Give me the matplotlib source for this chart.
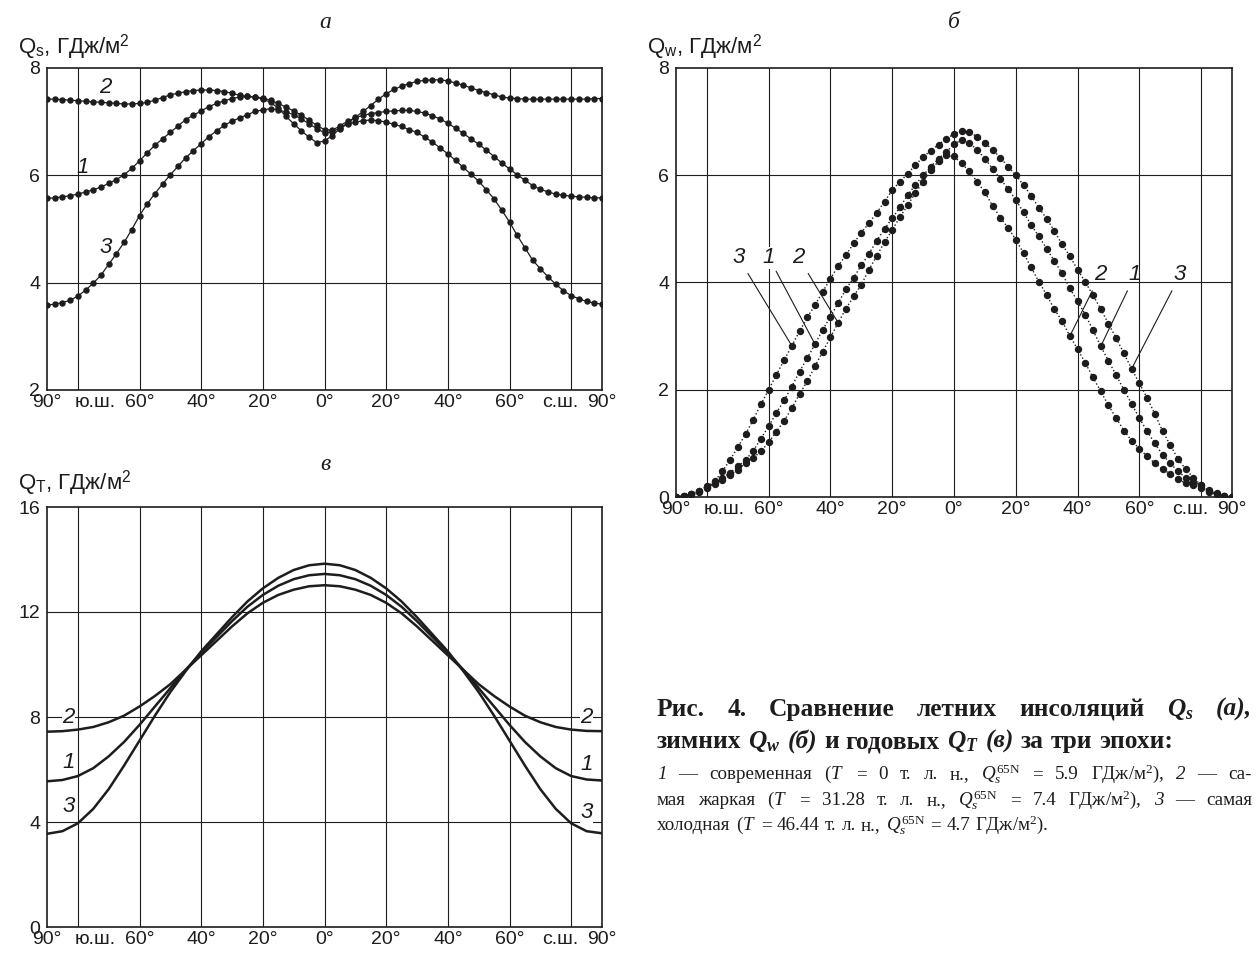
import numpy as np
import matplotlib
matplotlib.use('Agg')
from matplotlib import pyplot as plt
from matplotlib import font_manager

plt.rcParams['font.family'] = ['Liberation Sans', 'DejaVu Sans']
plt.rcParams['mathtext.fontset'] = 'custom'
plt.rcParams['mathtext.rm'] = 'Liberation Serif'
plt.rcParams['mathtext.it'] = 'Liberation Serif:italic'
plt.rcParams['mathtext.bf'] = 'Liberation Serif:bold'
plt.rcParams['mathtext.bfit'] = 'Liberation Serif:italic:bold'
plt.rcParams['mathtext.sf'] = 'Liberation Sans'

# узкий шрифт для подписей делений, если он есть
familias = {f.name for f in font_manager.fontManager.ttflist}
if 'Liberation Sans Narrow' in familias:
    fonte_ticks, tam_ticks = 'Liberation Sans Narrow', 16
else:
    fonte_ticks, tam_ticks = 'Liberation Sans', 14

# широты, град (ю.ш. отрицательные)
shirota = np.arange(-90, 90.1, 2.5)
shirota_t = np.arange(-90, 90.1, 5)

# --- а: летняя инсоляция Qs, ГДж/м2 ---
qs_1 = [5.57, 5.58, 5.60, 5.62, 5.65, 5.69, 5.73, 5.78, 5.85,
        5.92, 6.01, 6.13, 6.27, 6.42, 6.56, 6.68, 6.80,
        6.92, 7.04, 7.12, 7.20, 7.28, 7.34, 7.39, 7.43,
        7.46, 7.47, 7.46, 7.44, 7.40, 7.34, 7.27, 7.20,
        7.12, 7.03, 6.93, 6.85, 6.84, 6.92, 7.01, 7.07,
        7.12, 7.15, 7.17, 7.19, 7.20, 7.21, 7.21, 7.19,
        7.16, 7.11, 7.05, 6.97, 6.88, 6.78, 6.68, 6.58,
        6.47, 6.35, 6.23, 6.12, 6.01, 5.91, 5.81, 5.74,
        5.69, 5.65, 5.63, 5.61, 5.60, 5.59, 5.58, 5.58]
qs_2 = [7.42, 7.42, 7.41, 7.40, 7.39, 7.38, 7.37, 7.36, 7.35,
        7.34, 7.33, 7.33, 7.34, 7.36, 7.40, 7.45, 7.50,
        7.53, 7.56, 7.58, 7.59, 7.59, 7.58, 7.56, 7.53,
        7.49, 7.47, 7.46, 7.42, 7.36, 7.25, 7.10, 6.96,
        6.83, 6.71, 6.61, 6.64, 6.74, 6.87, 6.98, 7.08,
        7.19, 7.30, 7.42, 7.52, 7.60, 7.66, 7.71, 7.75,
        7.77, 7.78, 7.78, 7.76, 7.72, 7.68, 7.63, 7.58,
        7.54, 7.50, 7.46, 7.44, 7.43, 7.42, 7.42, 7.42,
        7.42, 7.42, 7.42, 7.42, 7.42, 7.42, 7.43, 7.43]
qs_3 = [3.58, 3.60, 3.63, 3.67, 3.75, 3.86, 3.99, 4.14, 4.34,
        4.54, 4.75, 4.99, 5.25, 5.47, 5.66, 5.84, 6.01,
        6.17, 6.33, 6.46, 6.59, 6.72, 6.83, 6.93, 7.01,
        7.07, 7.13, 7.19, 7.22, 7.24, 7.22, 7.18, 7.13,
        7.05, 6.96, 6.87, 6.79, 6.81, 6.88, 6.95, 6.99,
        7.02, 7.03, 7.02, 6.99, 6.95, 6.91, 6.85, 6.80,
        6.71, 6.62, 6.51, 6.40, 6.28, 6.15, 6.02, 5.89,
        5.73, 5.56, 5.35, 5.13, 4.88, 4.65, 4.42, 4.26,
        4.11, 3.97, 3.85, 3.76, 3.70, 3.65, 3.62, 3.60]

# --- б: зимняя инсоляция Qw, ГДж/м2 ---
qw_1 = [0.00, 0.02, 0.06, 0.12, 0.20, 0.28, 0.36, 0.45, 0.57,
        0.69, 0.86, 1.09, 1.32, 1.57, 1.80, 2.06, 2.34,
        2.59, 2.85, 3.12, 3.36, 3.62, 3.87, 4.09, 4.32,
        4.54, 4.78, 5.00, 5.20, 5.40, 5.63, 5.82, 6.00,
        6.16, 6.31, 6.43, 6.58, 6.66, 6.61, 6.47, 6.31,
        6.12, 5.93, 5.75, 5.54, 5.31, 5.07, 4.86, 4.63,
        4.40, 4.17, 3.89, 3.65, 3.40, 3.11, 2.81, 2.54,
        2.27, 2.00, 1.74, 1.47, 1.23, 1.00, 0.79, 0.63,
        0.48, 0.36, 0.28, 0.22, 0.13, 0.07, 0.02, 0.00]
qw_2 = [0.00, 0.02, 0.06, 0.11, 0.18, 0.25, 0.31, 0.41, 0.51,
        0.63, 0.73, 0.85, 1.02, 1.22, 1.42, 1.66, 1.92,
        2.16, 2.44, 2.71, 2.98, 3.25, 3.51, 3.74, 3.96,
        4.24, 4.50, 4.75, 4.98, 5.22, 5.44, 5.67, 5.88,
        6.10, 6.26, 6.37, 6.35, 6.22, 6.07, 5.88, 5.68,
        5.43, 5.21, 5.02, 4.80, 4.55, 4.28, 4.01, 3.77,
        3.50, 3.28, 3.00, 2.76, 2.50, 2.23, 1.97, 1.71,
        1.47, 1.24, 1.05, 0.90, 0.76, 0.63, 0.52, 0.43,
        0.33, 0.26, 0.22, 0.17, 0.10, 0.05, 0.01, 0.00]
qw_3 = [0.00, 0.02, 0.05, 0.09, 0.16, 0.29, 0.48, 0.69, 0.93,
        1.17, 1.44, 1.73, 2.00, 2.28, 2.55, 2.82, 3.09,
        3.35, 3.58, 3.83, 4.07, 4.31, 4.51, 4.73, 4.93,
        5.11, 5.30, 5.51, 5.72, 5.88, 6.03, 6.19, 6.34,
        6.46, 6.57, 6.68, 6.77, 6.83, 6.80, 6.72, 6.61,
        6.47, 6.33, 6.16, 6.00, 5.82, 5.62, 5.39, 5.19,
        4.96, 4.71, 4.49, 4.24, 4.01, 3.76, 3.51, 3.23,
        2.96, 2.68, 2.39, 2.12, 1.85, 1.55, 1.23, 0.97,
        0.71, 0.52, 0.36, 0.22, 0.11, 0.05, 0.01, 0.00]

# --- в: годовая инсоляция QT, ГДж/м2 (шаг 5 град) ---
qt_1 = [5.55, 5.60, 5.75, 6.05, 6.50, 7.05, 7.70, 8.40, 9.10, 9.80,
        10.45, 11.05, 11.65, 12.20, 12.65, 13.00, 13.25, 13.40, 13.45,
        13.40, 13.25, 13.00, 12.65, 12.20, 11.65, 11.05, 10.45,
        9.80, 9.10, 8.40, 7.70, 7.05, 6.50, 6.05, 5.75, 5.62, 5.58]
qt_2 = [7.44, 7.46, 7.52, 7.62, 7.80, 8.05, 8.40, 8.80, 9.25, 9.80,
        10.35, 10.90, 11.45, 11.95, 12.35, 12.65, 12.85, 12.98, 13.02,
        12.98, 12.85, 12.65, 12.35, 11.95, 11.45, 10.90, 10.35,
        9.80, 9.25, 8.80, 8.40, 8.05, 7.80, 7.62, 7.52, 7.47, 7.46]
qt_3 = [3.55, 3.65, 3.95, 4.50, 5.25, 6.15, 7.10, 8.05, 8.95, 9.75,
        10.50, 11.15, 11.80, 12.40, 12.90, 13.30, 13.60, 13.78, 13.84,
        13.78, 13.60, 13.30, 12.90, 12.40, 11.80, 11.15, 10.50,
        9.75, 8.95, 8.05, 7.10, 6.15, 5.25, 4.50, 3.95, 3.65, 3.57]

for s in (qs_1, qs_2, qs_3, qw_1, qw_2, qw_3):
    assert len(s) == len(shirota)
for s in (qt_1, qt_2, qt_3):
    assert len(s) == len(shirota_t)

x_ticks = [-90, -74.5, -60, -40, -20, 0, 20, 40, 60, 76.5, 90]
x_labels = ['90°', 'ю.ш.', '60°', '40°', '20°', '0°', '20°', '40°', '60°', 'с.ш.', '90°']
x_grid = [-80, -60, -40, -20, 0, 20, 40, 60, 80]

W, H = 1257, 955
cor = '#1e1c1c'
fig = plt.figure(figsize=(W / 100, H / 100), dpi=100)


def eixo(rect, ylim, yticks, ygrid):
    ax = fig.add_axes([rect[0] / W, 1 - rect[3] / H, (rect[2] - rect[0]) / W, (rect[3] - rect[1]) / H])
    ax.set_xlim(-90, 90)
    ax.set_ylim(*ylim)
    ax.set_xticks(x_ticks)
    ax.set_xticklabels(x_labels, family=fonte_ticks)
    ax.set_yticks(yticks)
    ax.set_yticklabels([str(v) for v in yticks], family=fonte_ticks)
    ax.tick_params(length=0, labelsize=tam_ticks, colors=cor)
    ax.tick_params(axis='x', pad=3)
    ax.tick_params(axis='y', pad=5)
    for g in x_grid:
        ax.axvline(g, color=cor, lw=0.8, zorder=1)
    for g in ygrid:
        ax.axhline(g, color=cor, lw=0.8, zorder=1)
    for sp in ax.spines.values():
        sp.set_color(cor)
        sp.set_linewidth(1.2)
    return ax


rotulo = dict(fontsize=16, fontstyle='italic', color=cor, ha='center', va='center')
caixa = dict(facecolor='white', edgecolor='none', pad=0.3)

# а
ax_a = eixo((47, 68, 602, 390), (2, 8), [2, 4, 6, 8], [4, 6])
for q in (qs_1, qs_2, qs_3):
    ax_a.plot(shirota, q, '-o', color=cor, lw=0.9, ms=3.6, zorder=3)
ax_a.text(-71, 7.64, '2', **rotulo)
ax_a.text(-78.5, 6.15, '1', **rotulo)
ax_a.text(-71, 4.65, '3', **rotulo)

# б
ax_b = eixo((676, 68, 1232, 497), (0, 8), [0, 2, 4, 6, 8], [2, 4, 6])
for q in (qw_1, qw_2, qw_3):
    ax_b.plot(shirota, q, ':o', color=cor, lw=1.0, ms=4.3, zorder=3)
linha = dict(arrowstyle='-', lw=0.8, color=cor, shrinkA=2, shrinkB=0)
for txt, q, i, pos, bb in [('3', qw_3, 15, (-69.8, 4.46), None), ('1', qw_1, 18, (-59.9, 4.46), caixa),
                           ('2', qw_2, 21, (-50.3, 4.46), None), ('2', qw_2, 51, (47.3, 4.14), None),
                           ('1', qw_1, 55, (58.6, 4.14), None), ('3', qw_3, 59, (73.2, 4.14), None)]:
    ax_b.annotate(txt, xy=(shirota[i], q[i]), xytext=pos, arrowprops=linha,
                  bbox=bb, zorder=4, **rotulo)

# в
ax_c = eixo((47, 507, 602, 927), (0, 16), [0, 4, 8, 12, 16], [4, 8, 12])
for q in (qt_1, qt_2, qt_3):
    ax_c.plot(shirota_t, q, '-', color=cor, lw=1.8, zorder=3)
for txt, yl, yr in [('2', 8.0, 8.0), ('1', 6.25, 6.2), ('3', 4.6, 4.35)]:
    ax_c.text(-83.1, yl, txt, bbox=caixa, zorder=4, **rotulo)
    ax_c.text(84.9, yr, txt, bbox=caixa, zorder=4, **rotulo)

# подписи осей и панелей
serif = ['Liberation Serif', 'DejaVu Serif']
for x, y, t in [(18, 53, r'$\mathsf{Q}_\mathsf{s}$, ГДж/м$^\mathsf{2}$'),
                (647, 53, r'$\mathsf{Q}_\mathsf{w}$, ГДж/м$^\mathsf{2}$'),
                (18, 489, r'$\mathsf{Q}_\mathsf{T}$, ГДж/м$^\mathsf{2}$')]:
    fig.text(x / W, 1 - y / H, t, fontsize=16, color=cor, va='baseline')
for x, y, t in [(325, 28, 'а'), (954, 28, 'б'), (325, 470, 'в')]:
    fig.text(x / W, 1 - y / H, t, fontsize=17, fontstyle='italic', family=serif,
             color=cor, ha='center', va='baseline')

# подпись к рисунку
r = fig.canvas.get_renderer()


def linha_texto(tokens, y, size, weight, justify, x0=657, x1=1252):
    objs = [fig.text(x0 / W, 1 - y / H, t, fontsize=size, fontweight=weight,
                     fontstyle=st, family=serif, color=cor, va='baseline')
            for t, st in tokens]
    larg = [o.get_window_extent(renderer=r).width for o in objs]
    if justify:
        gap = (x1 - x0 - sum(larg)) / (len(objs) - 1)
    else:
        gap = size * 0.27 * 100 / 72
    x = x0
    for o, w in zip(objs, larg):
        o.set_x(x / W)
        x += w + gap


n = 'normal'
it = 'italic'
Q65 = r'$\mathit{Q}_{\mathit{s}}^{\mathrm{65N}}$'
m2 = r'ГДж/м$^{\mathrm{2}}$),'
linha_texto([('Рис.', n), ('4.', n), ('Сравнение', n), ('летних', n), ('инсоляций', n),
             (r'$\mathbfit{Q}_{\mathbfit{s}}$', n), ('(а),', it)], 716, 18.3, 'bold', True)
linha_texto([('зимних', n), (r'$\mathbfit{Q}_{\mathbfit{w}}$', n), ('(б)', it), ('и', n),
             ('годовых', n), (r'$\mathbfit{Q}_{\mathbfit{T}}$', n), ('(в)', it), ('за', n),
             ('три', n), ('эпохи:', n)], 748, 18.3, 'bold', False)
linha_texto([('1', it), ('—', n), ('современная', n), (r'($\mathit{T}$', n), ('=', n), ('0', n),
             ('т.', n), ('л.', n), ('н.,', n), (Q65, n), ('=', n), ('5.9', n), (m2, n),
             ('2', it), ('—', n), ('са-', n)], 779, 13.7, 'normal', True)
linha_texto([('мая', n), ('жаркая', n), (r'($\mathit{T}$', n), ('=', n), ('31.28', n),
             ('т.', n), ('л.', n), ('н.,', n), (Q65, n), ('=', n), ('7.4', n), (m2, n),
             ('3', it), ('—', n), ('самая', n)], 805, 13.7, 'normal', True)
linha_texto([('холодная', n), (r'($\mathit{T}$', n), ('=', n), ('46.44', n),
             ('т.', n), ('л.', n), ('н.,', n), (Q65, n), ('=', n), ('4.7', n),
             (r'ГДж/м$^{\mathrm{2}}$).', n)], 830, 13.7, 'normal', False)

fig.savefig('out.png', dpi=100)
